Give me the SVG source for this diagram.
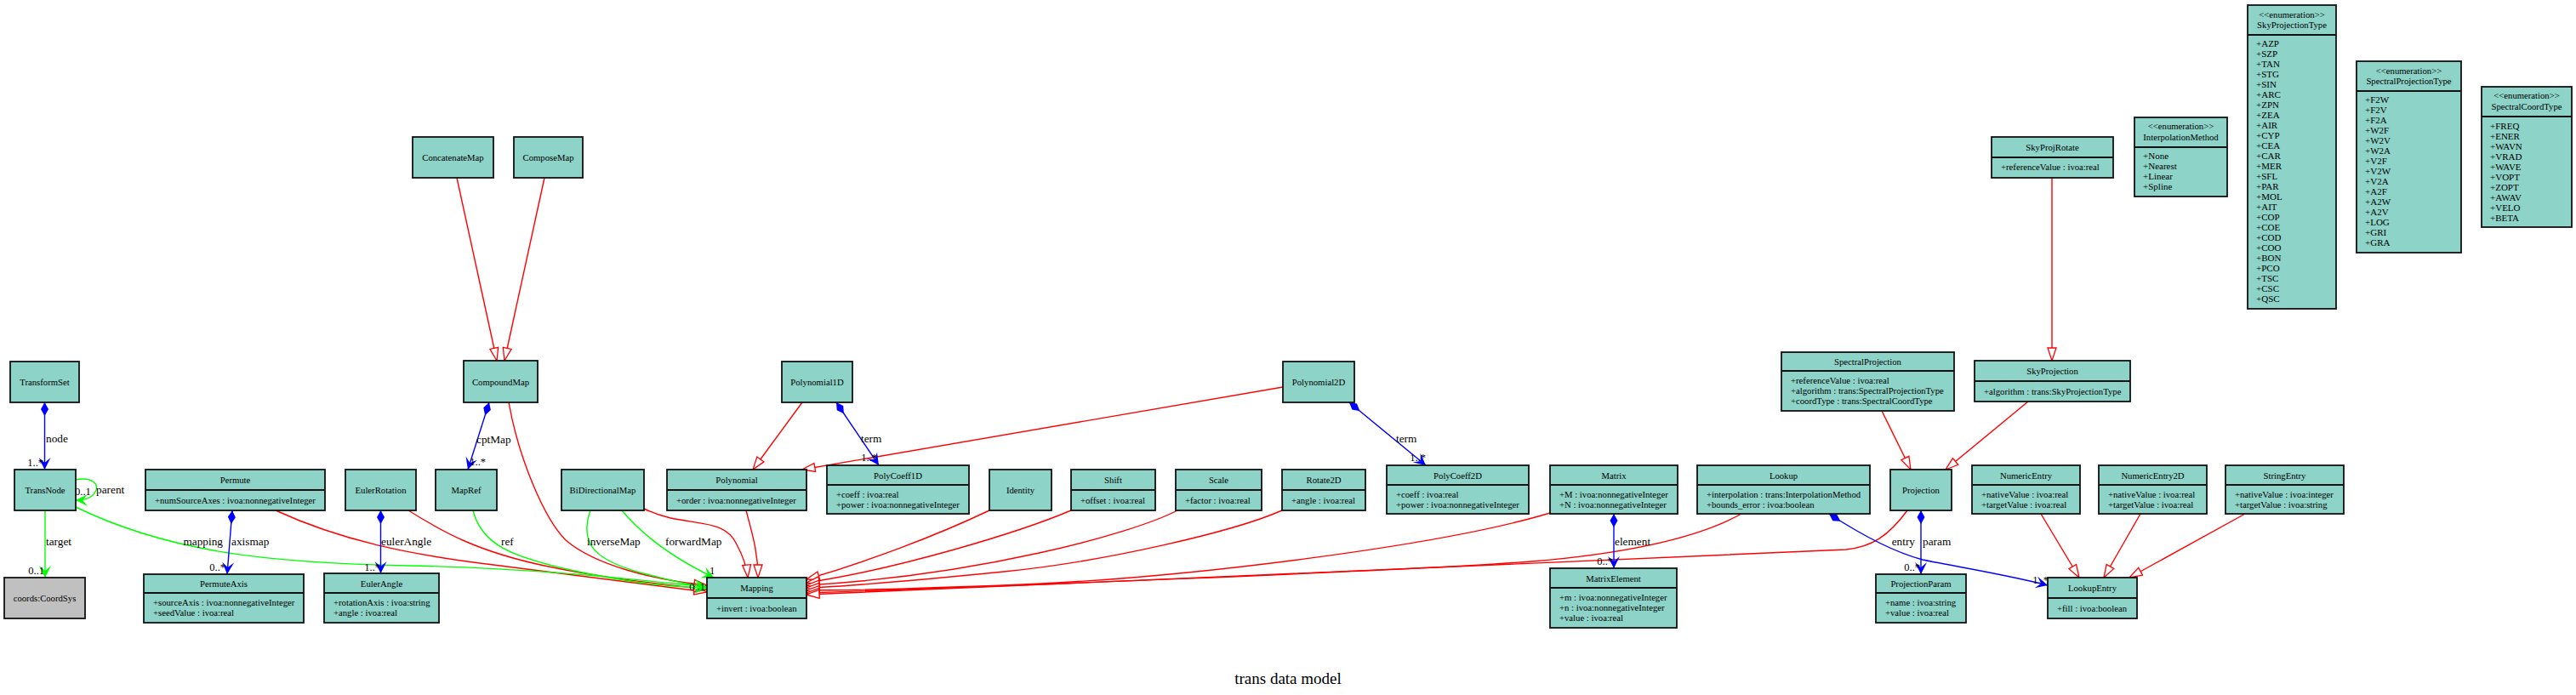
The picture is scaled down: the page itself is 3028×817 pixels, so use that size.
<svg xmlns="http://www.w3.org/2000/svg" width="3028" height="817" viewBox="0 0 3028 817">
<style>
.n{fill:#8dd3c7;stroke:#111;stroke-width:1.8}
.g{fill:#c0c0c0;stroke:#111;stroke-width:1.8}
.d{stroke:#111;stroke-width:1.8}
text{font-family:"Liberation Serif","Times New Roman",serif;fill:#000}
.t{font-size:10.7px;text-anchor:middle;dominant-baseline:central}
.a{font-size:10.7px;dominant-baseline:central}
.e{font-size:11px;dominant-baseline:central}
.l{font-size:13.3px;dominant-baseline:central}
.m{font-size:12.5px;dominant-baseline:central}
.r{fill:none;stroke:#ff0000;stroke-width:1.4;marker-end:url(#tri)}
.gr{fill:none;stroke:#00ff00;stroke-width:1.4;marker-end:url(#veeg)}
.b{fill:none;stroke:#0000ff;stroke-width:1.4;marker-start:url(#dia);marker-end:url(#veeb)}
</style>
<defs>
<marker id="tri" markerUnits="userSpaceOnUse" markerWidth="16" markerHeight="12" refX="15" refY="5" orient="auto" overflow="visible"><path d="M15,5 L0,0 L0,10 Z" fill="#fff" stroke="#ff0000" stroke-width="1.3"/></marker>
<marker id="veeg" markerUnits="userSpaceOnUse" markerWidth="16" markerHeight="14" refX="14" refY="7" orient="auto" overflow="visible"><path d="M14,7 L0,0 L6,7 L0,14 Z" fill="#00ff00"/></marker>
<marker id="veeb" markerUnits="userSpaceOnUse" markerWidth="16" markerHeight="14" refX="14" refY="7" orient="auto" overflow="visible"><path d="M14,7 L0,0 L6,7 L0,14 Z" fill="#0000ff"/></marker>
<marker id="dia" markerUnits="userSpaceOnUse" markerWidth="17" markerHeight="9" refX="0" refY="4.5" orient="auto" overflow="visible"><path d="M0,4.5 L8,0 L16,4.5 L8,9 Z" fill="#0000ff"/></marker>
</defs>
<rect width="3028" height="817" fill="#fff"/>

<g id="connectors">
<!-- generalizations -->
<path class="r" d="M537,209 L584,424"/>
<path class="r" d="M640,209 L593,424"/>
<path class="r" d="M598,473 C610,540 640,610 665,635 C700,665 770,682 831,688"/>
<path class="r" d="M324,600 C400,635 480,652 580,664 S770,688 831,696"/>
<path class="r" d="M480,600 C520,625 560,648 640,665 S780,686 831,693"/>
<path class="r" d="M757,598 C805,622 850,605 866,640 C874,655 878,668 879,679"/>
<path class="r" d="M877,600 C885,630 891,650 891,679"/>
<path class="r" d="M943,473 L885,552"/>
<path class="r" d="M1508,455 L943,552"/>
<path class="r" d="M1163,600 C1100,630 1020,660 948,681"/>
<path class="r" d="M1259,600 C1200,625 1060,668 948,685"/>
<path class="r" d="M1384,600 C1330,628 1150,676 948,688"/>
<path class="r" d="M1507,600 C1450,625 1300,660 1180,672 S1000,689 948,691"/>
<path class="r" d="M1822,603 C1700,640 1400,680 1180,688 S1000,693 948,694"/>
<path class="r" d="M2047,604 C2000,630 1920,650 1800,660 S1100,692 948,697"/>
<path class="r" d="M2242,600 C2220,630 2200,643 2170,646 C2000,655 1300,683 948,699"/>
<path class="r" d="M2212,483 L2246,552"/>
<path class="r" d="M2384,472 L2287,552"/>
<path class="r" d="M2412,209 L2412,424"/>
<path class="r" d="M2399,604 L2444,679"/>
<path class="r" d="M2516,604 L2473,679"/>
<path class="r" d="M2639,604 L2503,679"/>
<!-- associations -->
<path class="gr" d="M89,564 C108,560 118,570 112,578 C108,586 98,588 89,588"/>
<path class="gr" d="M53,600 L53,679"/>
<path class="gr" d="M89,596 C200,650 320,662 480,665 S770,684 831,690"/>
<path class="gr" d="M556,600 C566,640 600,655 680,672 S790,688 831,692"/>
<path class="gr" d="M694,600 C680,640 700,660 760,675 S815,688 831,690"/>
<path class="gr" d="M731,600 C760,635 800,660 839,679"/>
<!-- compositions -->
<path class="b" d="M52.5,473 L52.5,552"/>
<path class="b" d="M273,600 L267,675"/>
<path class="b" d="M447.5,600 L447.5,674"/>
<path class="b" d="M575,473 L550,552"/>
<path class="b" d="M983,473 L1033,547"/>
<path class="b" d="M1586,473 L1676,547"/>
<path class="b" d="M1897,604 L1897,668"/>
<path class="b" d="M2258,600 L2258,675"/>
<path class="b" d="M2150,604 C2190,630 2230,650 2260,658 C2310,668 2360,676 2407,688"/>
<!-- labels -->
<text class="l" x="54" y="515">node</text>
<text class="m" x="51" y="544" text-anchor="end">1..*</text>
<text class="l" x="113" y="575">parent</text>
<text class="m" x="88" y="578">0..1</text>
<text class="l" x="54" y="636">target</text>
<text class="m" x="52" y="671" text-anchor="end">0..1</text>
<text class="l" x="262" y="636" text-anchor="end">mapping</text>
<text class="l" x="272" y="636">axismap</text>
<text class="m" x="265" y="667" text-anchor="end">0..*</text>
<text class="l" x="448" y="636">eulerAngle</text>
<text class="m" x="447" y="667" text-anchor="end">1..*</text>
<text class="l" x="560" y="516">cptMap</text>
<text class="m" x="571" y="543" text-anchor="end">1..*</text>
<text class="l" x="589" y="636">ref</text>
<text class="l" x="690" y="636">inverseMap</text>
<text class="l" x="782" y="636">forwardMap</text>
<text class="m" x="834" y="671">1</text>
<text class="m" x="829" y="690" text-anchor="end">0..1</text>
<text class="l" x="1012" y="515">term</text>
<text class="m" x="1031" y="538" text-anchor="end">1..*</text>
<text class="l" x="1641" y="515">term</text>
<text class="m" x="1676" y="538" text-anchor="end">1..*</text>
<text class="l" x="1898" y="636">element</text>
<text class="m" x="1896" y="660" text-anchor="end">0..*</text>
<text class="l" x="2251" y="636" text-anchor="end">entry</text>
<text class="l" x="2260" y="636">param</text>
<text class="m" x="2257" y="667" text-anchor="end">0..*</text>
<text class="m" x="2408" y="682" text-anchor="end">1..*</text>
</g>

<g id="TransformSet"><rect class="n" x="12" y="425" width="81" height="48"/><text class="t" x="52.5" y="449">TransformSet</text></g>
<g id="TransNode"><rect class="n" x="17" y="552" width="72" height="48"/><text class="t" x="53" y="576">TransNode</text></g>
<g id="CoordSys"><rect class="g" x="5" y="679" width="95" height="48"/><text class="t" x="52.5" y="703">coords:CoordSys</text></g>
<g id="ConcatenateMap"><rect class="n" x="485" y="161" width="95" height="48"/><text class="t" x="532.5" y="185">ConcatenateMap</text></g>
<g id="ComposeMap"><rect class="n" x="604" y="161" width="81" height="48"/><text class="t" x="644.5" y="185">ComposeMap</text></g>
<g id="CompoundMap"><rect class="n" x="545" y="424" width="87" height="49"/><text class="t" x="588.5" y="448.5">CompoundMap</text></g>
<g id="Permute"><rect class="n" x="171" y="552" width="211" height="48"/><line class="d" x1="171" y1="576" x2="382" y2="576"/><text class="t" x="276.5" y="564">Permute</text><text class="a" x="182" y="588">+numSourceAxes : ivoa:nonnegativeInteger</text></g>
<g id="PermuteAxis"><rect class="n" x="169" y="675" width="188" height="57"/><line class="d" x1="169" y1="697" x2="357" y2="697"/><text class="t" x="263" y="686">PermuteAxis</text><text class="a" x="180" y="708">+sourceAxis : ivoa:nonnegativeInteger</text><text class="a" x="180" y="720">+seedValue : ivoa:real</text></g>
<g id="EulerRotation"><rect class="n" x="406" y="552" width="83" height="48"/><text class="t" x="447.5" y="576">EulerRotation</text></g>
<g id="EulerAngle"><rect class="n" x="381" y="674" width="135" height="58"/><line class="d" x1="381" y1="697" x2="516" y2="697"/><text class="t" x="448.5" y="685.5">EulerAngle</text><text class="a" x="392" y="708">+rotationAxis : ivoa:string</text><text class="a" x="392" y="720">+angle : ivoa:real</text></g>
<g id="MapRef"><rect class="n" x="512" y="552" width="72" height="48"/><text class="t" x="548" y="576">MapRef</text></g>
<g id="BiDirectionalMap"><rect class="n" x="660" y="552" width="97" height="48"/><text class="t" x="708.5" y="576">BiDirectionalMap</text></g>
<g id="Polynomial"><rect class="n" x="784" y="552" width="164" height="48"/><line class="d" x1="784" y1="576" x2="948" y2="576"/><text class="t" x="866" y="564">Polynomial</text><text class="a" x="795" y="588">+order : ivoa:nonnegativeInteger</text></g>
<g id="Polynomial1D"><rect class="n" x="919" y="425" width="83" height="48"/><text class="t" x="960.5" y="449">Polynomial1D</text></g>
<g id="PolyCoeff1D"><rect class="n" x="972" y="547" width="167" height="57"/><line class="d" x1="972" y1="570" x2="1139" y2="570"/><text class="t" x="1055.5" y="558.5">PolyCoeff1D</text><text class="a" x="983" y="581">+coeff : ivoa:real</text><text class="a" x="983" y="593">+power : ivoa:nonnegativeInteger</text></g>
<g id="Identity"><rect class="n" x="1163" y="552" width="73" height="48"/><text class="t" x="1199.5" y="576">Identity</text></g>
<g id="Shift"><rect class="n" x="1259" y="552" width="99" height="48"/><line class="d" x1="1259" y1="576" x2="1358" y2="576"/><text class="t" x="1308.5" y="564">Shift</text><text class="a" x="1270" y="588">+offset : ivoa:real</text></g>
<g id="Scale"><rect class="n" x="1382" y="552" width="101" height="48"/><line class="d" x1="1382" y1="576" x2="1483" y2="576"/><text class="t" x="1432.5" y="564">Scale</text><text class="a" x="1393" y="588">+factor : ivoa:real</text></g>
<g id="Rotate2D"><rect class="n" x="1507" y="552" width="98" height="48"/><line class="d" x1="1507" y1="576" x2="1605" y2="576"/><text class="t" x="1556" y="564">Rotate2D</text><text class="a" x="1518" y="588">+angle : ivoa:real</text></g>
<g id="Polynomial2D"><rect class="n" x="1508" y="425" width="84" height="48"/><text class="t" x="1550" y="449">Polynomial2D</text></g>
<g id="PolyCoeff2D"><rect class="n" x="1630" y="547" width="167" height="57"/><line class="d" x1="1630" y1="570" x2="1797" y2="570"/><text class="t" x="1713.5" y="558.5">PolyCoeff2D</text><text class="a" x="1641" y="581">+coeff : ivoa:real</text><text class="a" x="1641" y="593">+power : ivoa:nonnegativeInteger</text></g>
<g id="Matrix"><rect class="n" x="1822" y="547" width="150" height="57"/><line class="d" x1="1822" y1="570" x2="1972" y2="570"/><text class="t" x="1897" y="558.5">Matrix</text><text class="a" x="1833" y="581">+M : ivoa:nonnegativeInteger</text><text class="a" x="1833" y="593">+N : ivoa:nonnegativeInteger</text></g>
<g id="MatrixElement"><rect class="n" x="1822" y="668" width="149" height="70"/><line class="d" x1="1822" y1="691" x2="1971" y2="691"/><text class="t" x="1896.5" y="679.5">MatrixElement</text><text class="a" x="1833" y="702">+m : ivoa:nonnegativeInteger</text><text class="a" x="1833" y="714">+n : ivoa:nonnegativeInteger</text><text class="a" x="1833" y="726">+value : ivoa:real</text></g>
<g id="Mapping"><rect class="n" x="831" y="679" width="117" height="48"/><line class="d" x1="831" y1="703" x2="948" y2="703"/><text class="t" x="889.5" y="691">Mapping</text><text class="a" x="842" y="715">+invert : ivoa:boolean</text></g>
<g id="Lookup"><rect class="n" x="1995" y="547" width="203" height="57"/><line class="d" x1="1995" y1="570" x2="2198" y2="570"/><text class="t" x="2096.5" y="558.5">Lookup</text><text class="a" x="2006" y="581">+interpolation : trans:InterpolationMethod</text><text class="a" x="2006" y="593">+bounds_error : ivoa:boolean</text></g>
<g id="Projection"><rect class="n" x="2222" y="552" width="72" height="48"/><text class="t" x="2258" y="576">Projection</text></g>
<g id="ProjectionParam"><rect class="n" x="2205" y="675" width="106" height="57"/><line class="d" x1="2205" y1="697" x2="2311" y2="697"/><text class="t" x="2258" y="686">ProjectionParam</text><text class="a" x="2216" y="708">+name : ivoa:string</text><text class="a" x="2216" y="720">+value : ivoa:real</text></g>
<g id="SpectralProjection"><rect class="n" x="2094" y="414" width="203" height="69"/><line class="d" x1="2094" y1="436" x2="2297" y2="436"/><text class="t" x="2195.5" y="425">SpectralProjection</text><text class="a" x="2105" y="447">+referenceValue : ivoa:real</text><text class="a" x="2105" y="459">+algorithm : trans:SpectralProjectionType</text><text class="a" x="2105" y="471">+coordType : trans:SpectralCoordType</text></g>
<g id="SkyProjection"><rect class="n" x="2321" y="424" width="183" height="48"/><line class="d" x1="2321" y1="448" x2="2504" y2="448"/><text class="t" x="2412.5" y="436">SkyProjection</text><text class="a" x="2332" y="460">+algorithm : trans:SkyProjectionType</text></g>
<g id="SkyProjRotate"><rect class="n" x="2341" y="161" width="143" height="48"/><line class="d" x1="2341" y1="185" x2="2484" y2="185"/><text class="t" x="2412.5" y="173">SkyProjRotate</text><text class="a" x="2352" y="196">+referenceValue : ivoa:real</text></g>
<g id="NumericEntry"><rect class="n" x="2318" y="547" width="127" height="57"/><line class="d" x1="2318" y1="570" x2="2445" y2="570"/><text class="t" x="2381.5" y="558.5">NumericEntry</text><text class="a" x="2329" y="581">+nativeValue : ivoa:real</text><text class="a" x="2329" y="593">+targetValue : ivoa:real</text></g>
<g id="NumericEntry2D"><rect class="n" x="2467" y="547" width="127" height="57"/><line class="d" x1="2467" y1="570" x2="2594" y2="570"/><text class="t" x="2530.5" y="558.5">NumericEntry2D</text><text class="a" x="2478" y="581">+nativeValue : ivoa:real</text><text class="a" x="2478" y="593">+targetValue : ivoa:real</text></g>
<g id="StringEntry"><rect class="n" x="2616" y="547" width="139" height="57"/><line class="d" x1="2616" y1="570" x2="2755" y2="570"/><text class="t" x="2685.5" y="558.5">StringEntry</text><text class="a" x="2627" y="581">+nativeValue : ivoa:integer</text><text class="a" x="2627" y="593">+targetValue : ivoa:string</text></g>
<g id="LookupEntry"><rect class="n" x="2407" y="679" width="105" height="48"/><line class="d" x1="2407" y1="703" x2="2512" y2="703"/><text class="t" x="2459.5" y="691">LookupEntry</text><text class="a" x="2418" y="715">+fill : ivoa:boolean</text></g>
<g id="InterpolationMethod"><rect class="n" x="2509" y="138" width="109" height="93"/><line class="d" x1="2509" y1="173" x2="2618" y2="173"/><text class="t" x="2563.5" y="148">&lt;&lt;enumeration&gt;&gt;</text><text class="t" x="2563.5" y="161">InterpolationMethod</text><text class="e" x="2519" y="183">+None</text><text class="e" x="2519" y="195">+Nearest</text><text class="e" x="2519" y="207">+Linear</text><text class="e" x="2519" y="219">+Spline</text></g>
<g id="SkyProjectionType"><rect class="n" x="2642" y="6" width="104" height="357"/><line class="d" x1="2642" y1="41" x2="2746" y2="41"/><text class="t" x="2694" y="17">&lt;&lt;enumeration&gt;&gt;</text><text class="t" x="2694" y="29">SkyProjectionType</text>
<text class="e" x="2652" y="51">+AZP</text><text class="e" x="2652" y="63">+SZP</text><text class="e" x="2652" y="75">+TAN</text><text class="e" x="2652" y="87">+STG</text><text class="e" x="2652" y="99">+SIN</text><text class="e" x="2652" y="111">+ARC</text><text class="e" x="2652" y="123">+ZPN</text><text class="e" x="2652" y="135">+ZEA</text><text class="e" x="2652" y="147">+AIR</text><text class="e" x="2652" y="159">+CYP</text><text class="e" x="2652" y="171">+CEA</text><text class="e" x="2652" y="183">+CAR</text><text class="e" x="2652" y="195">+MER</text><text class="e" x="2652" y="207">+SFL</text><text class="e" x="2652" y="219">+PAR</text><text class="e" x="2652" y="231">+MOL</text><text class="e" x="2652" y="243">+AIT</text><text class="e" x="2652" y="255">+COP</text><text class="e" x="2652" y="267">+COE</text><text class="e" x="2652" y="279">+COD</text><text class="e" x="2652" y="291">+COO</text><text class="e" x="2652" y="303">+BON</text><text class="e" x="2652" y="315">+PCO</text><text class="e" x="2652" y="327">+TSC</text><text class="e" x="2652" y="339">+CSC</text><text class="e" x="2652" y="351">+QSC</text></g>
<g id="SpectralProjectionType"><rect class="n" x="2770" y="72" width="123" height="225"/><line class="d" x1="2770" y1="107" x2="2893" y2="107"/><text class="t" x="2831.5" y="83">&lt;&lt;enumeration&gt;&gt;</text><text class="t" x="2831.5" y="95">SpectralProjectionType</text>
<text class="e" x="2780" y="117">+F2W</text><text class="e" x="2780" y="129">+F2V</text><text class="e" x="2780" y="141">+F2A</text><text class="e" x="2780" y="153">+W2F</text><text class="e" x="2780" y="165">+W2V</text><text class="e" x="2780" y="177">+W2A</text><text class="e" x="2780" y="189">+V2F</text><text class="e" x="2780" y="201">+V2W</text><text class="e" x="2780" y="213">+V2A</text><text class="e" x="2780" y="225">+A2F</text><text class="e" x="2780" y="237">+A2W</text><text class="e" x="2780" y="249">+A2V</text><text class="e" x="2780" y="261">+LOG</text><text class="e" x="2780" y="273">+GRI</text><text class="e" x="2780" y="285">+GRA</text></g>
<g id="SpectralCoordType"><rect class="n" x="2917" y="102" width="106" height="165"/><line class="d" x1="2917" y1="137" x2="3023" y2="137"/><text class="t" x="2970" y="112">&lt;&lt;enumeration&gt;&gt;</text><text class="t" x="2970" y="125">SpectralCoordType</text>
<text class="e" x="2927" y="148">+FREQ</text><text class="e" x="2927" y="160">+ENER</text><text class="e" x="2927" y="172">+WAVN</text><text class="e" x="2927" y="184">+VRAD</text><text class="e" x="2927" y="196">+WAVE</text><text class="e" x="2927" y="208">+VOPT</text><text class="e" x="2927" y="220">+ZOPT</text><text class="e" x="2927" y="232">+AWAV</text><text class="e" x="2927" y="244">+VELO</text><text class="e" x="2927" y="256">+BETA</text></g>
<text x="1514" y="797" font-size="19" text-anchor="middle" dominant-baseline="central">trans data model</text>
</svg>
